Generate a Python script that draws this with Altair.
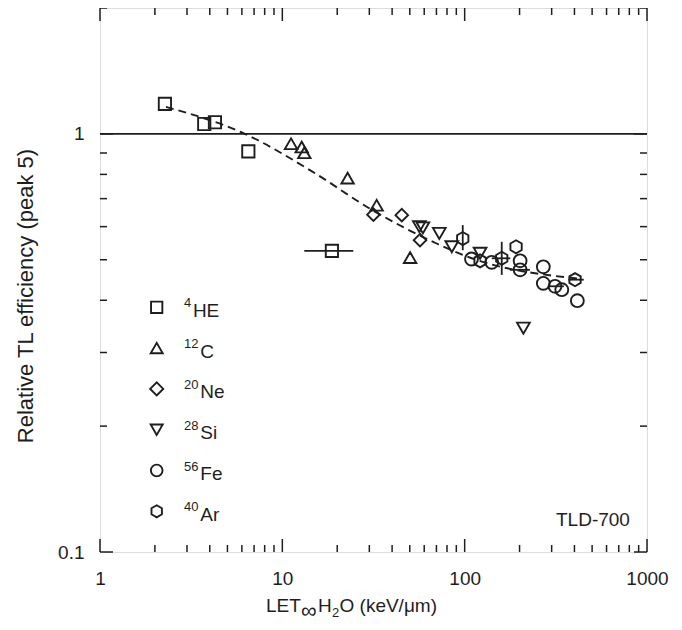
import altair as alt
import pandas as pd

# ---------------- data ----------------
he_x = [2.27, 3.73, 4.27, 6.51, 18.7]
he_y = [1.18, 1.056, 1.066, 0.908, 0.525]

c_x = [11.16, 12.77, 13.2, 22.8, 32.9, 50.2]
c_y = [0.947, 0.930, 0.901, 0.784, 0.675, 0.506]

ne_x = [31.6, 45.2, 56.9]
ne_y = [0.641, 0.639, 0.557]

si_x = [56.4, 59.0, 72.6, 85.0, 121.5, 210.0]
si_y = [0.600, 0.596, 0.578, 0.537, 0.518, 0.343]

fe_x = [109.0, 140.8, 201.4, 201.4, 270.0, 270.0, 313.0, 341.0, 415.0]
fe_y = [0.502, 0.493, 0.497, 0.473, 0.481, 0.439, 0.432, 0.424, 0.399]

ar_x = [97.6, 121.5, 159.7, 191.4, 403.0]
ar_y = [0.562, 0.497, 0.504, 0.537, 0.448]

# horizontal error bars (x range) and vertical error bars (y range)
hbar_y = [0.525, 0.504, 0.473, 0.432, 0.448]
hbar_lo = [13.2, 140.8, 177.0, 287.0, 370.0]
hbar_hi = [24.5, 177.8, 228.0, 350.0, 450.0]

vbar_x = [97.6, 159.7]
vbar_lo = [0.527, 0.460]
vbar_hi = [0.605, 0.552]

fit_x = [2.3, 6.23, 14.7, 30.3, 70.6, 103.0, 414.0]
fit_y = [1.16, 1.0, 0.811, 0.662, 0.546, 0.509, 0.451]

ion_mass = ["4", "12", "20", "28", "56", "40"]
ion_sym = ["HE", "C", "Ne", "Si", "Fe", "Ar"]
ion_key = ["He", "C", "Ne", "Si", "Fe", "Ar"]

x_tick_labels = [1, 10, 100, 1000]
y_tick_labels = [0.1, 1]

# ---------------- layout / style ----------------
W, H = 547, 544
FONT = "Liberation Sans"
INK = "#1e1e1e"
FS = 19
HEX = "M0,-1L0.866,-0.5L0.866,0.5L0,1L-0.866,0.5L-0.866,-0.5Z"
SHAPES = ["square", "triangle-up", "diamond", "triangle-down", "circle", HEX]
SIZES = [150, 170, 200, 170, 160, 170]

xscale = alt.Scale(type="log", domain=[1, 1000])
yscale = alt.Scale(type="log", domain=[0.1, 2])

rows = []
for key, xs, ys in zip(ion_key, [he_x, c_x, ne_x, si_x, fe_x, ar_x],
                       [he_y, c_y, ne_y, si_y, fe_y, ar_y]):
    for a, b in zip(xs, ys):
        rows.append({"x": a, "y": b, "ion": key})
pts = pd.DataFrame(rows)

X = alt.X("x:Q", scale=xscale,
          axis=alt.Axis(values=x_tick_labels, format="~g", ticks=False, domain=False,
                        grid=False, labelFont=FONT, labelFontSize=FS, labelColor=INK,
                        labelPadding=17, labelFlush=False, labelOverlap=False, title=None))
Y = alt.Y("y:Q", scale=yscale,
          axis=alt.Axis(values=y_tick_labels, format="~g", ticks=False, domain=False,
                        grid=False, labelFont=FONT, labelFontSize=FS, labelColor=INK,
                        labelPadding=16, labelFlush=False, labelOverlap=False, title=None))

points = alt.Chart(pts).mark_point(filled=False, strokeWidth=1.9, color=INK, opacity=1).encode(
    x=X, y=Y,
    shape=alt.Shape("ion:N", scale=alt.Scale(domain=ion_key, range=SHAPES), legend=None),
    size=alt.Size("ion:N", scale=alt.Scale(domain=ion_key, range=SIZES), legend=None),
)

hb = pd.DataFrame({"y": hbar_y, "lo": hbar_lo, "hi": hbar_hi})
hbars = alt.Chart(hb).mark_rule(color=INK, strokeWidth=1.8).encode(
    x=alt.X("lo:Q", scale=xscale), x2="hi:Q", y=alt.Y("y:Q", scale=yscale))

vb = pd.DataFrame({"x": vbar_x, "lo": vbar_lo, "hi": vbar_hi})
vbars = alt.Chart(vb).mark_rule(color=INK, strokeWidth=1.8).encode(
    x=alt.X("x:Q", scale=xscale), y=alt.Y("lo:Q", scale=yscale), y2="hi:Q")

fit = alt.Chart(pd.DataFrame({"x": fit_x, "y": fit_y})).mark_line(
    color=INK, strokeWidth=1.9, strokeDash=[8, 5], interpolate="monotone").encode(
    x=alt.X("x:Q", scale=xscale), y=alt.Y("y:Q", scale=yscale))

one = alt.Chart(pd.DataFrame({"y": [1.0]})).mark_rule(color=INK, strokeWidth=1.8).encode(
    y=alt.Y("y:Q", scale=yscale), x=alt.value(0), x2=alt.value(W))

# ---------------- inward ticks ----------------
x_minor = [d * 10 ** k for k in range(3) for d in range(2, 10)]
x_major = [1, 10, 100, 1000]
y_minor = [d * 0.1 for d in range(2, 10)] + [2]
y_major = [0.1, 1]

def xticks(vals, ln):
    df = pd.DataFrame({"x": vals})
    b = alt.Chart(df).mark_rule(color=INK, strokeWidth=1.5).encode(
        x=alt.X("x:Q", scale=xscale), y=alt.value(H), y2=alt.value(H - ln))
    t = alt.Chart(df).mark_rule(color=INK, strokeWidth=1.5).encode(
        x=alt.X("x:Q", scale=xscale), y=alt.value(0), y2=alt.value(ln))
    return [b, t]

def yticks(vals, ln):
    df = pd.DataFrame({"y": vals})
    l = alt.Chart(df).mark_rule(color=INK, strokeWidth=1.5).encode(
        y=alt.Y("y:Q", scale=yscale), x=alt.value(0), x2=alt.value(ln))
    r = alt.Chart(df).mark_rule(color=INK, strokeWidth=1.5).encode(
        y=alt.Y("y:Q", scale=yscale), x=alt.value(W), x2=alt.value(W - ln))
    return [l, r]

tick_layers = xticks(x_minor, 7) + xticks(x_major, 13) + yticks(y_minor, 7) + yticks(y_major, 13)

# ---------------- texts ----------------
one_row = pd.DataFrame({"a": [0]})

def txt(s, x, y, size=FS, align="left", baseline="alphabetic", angle=0):
    return alt.Chart(one_row).mark_text(
        text=s, font=FONT, fontSize=size, color=INK, align=align,
        baseline=baseline, angle=angle).encode(x=alt.value(x), y=alt.value(y))

texts = []
# legend
LX, LY0, LDY = 56.7, 299.3, 40.8
for i, (m, s) in enumerate(zip(ion_mass, ion_sym)):
    yy = LY0 + LDY * i
    texts.append(alt.Chart(one_row).mark_point(
        filled=False, strokeWidth=1.9, color=INK, opacity=1,
        shape=SHAPES[i], size=SIZES[i] * 0.85).encode(x=alt.value(LX), y=alt.value(yy)))
    texts.append(txt(m, 84, yy, size=13))
    texts.append(txt(s, 84 + 7.4 * len(m) + 1.5, yy + 9.5))

texts.append(txt("TLD-700", 456, 518))

# x axis title with subscripts
TB = 604
texts += [
    txt("LET", 166, TB),
    txt("\u221e", 201, TB + 6, size=22),
    txt("H", 218, TB),
    txt("2", 232, TB + 5, size=13),
    txt("O (keV/\u03bcm)", 239.5, TB),
]
# y axis title
texts.append(txt("Relative TL efficiency (peak 5)", -74, 288, align="center",
                 baseline="middle", angle=270, size=22))

chart = alt.layer(one, fit, hbars, vbars, points, *tick_layers, *texts).properties(
    width=W, height=H,
    autosize=alt.AutoSizeParams(type="none"),
    padding={"left": 92, "top": 0, "right": 27, "bottom": 70},
).configure_view(stroke=INK, strokeWidth=1.6).configure(background="white")

chart.save("out.html", embed_options={"renderer": "svg", "actions": False})
